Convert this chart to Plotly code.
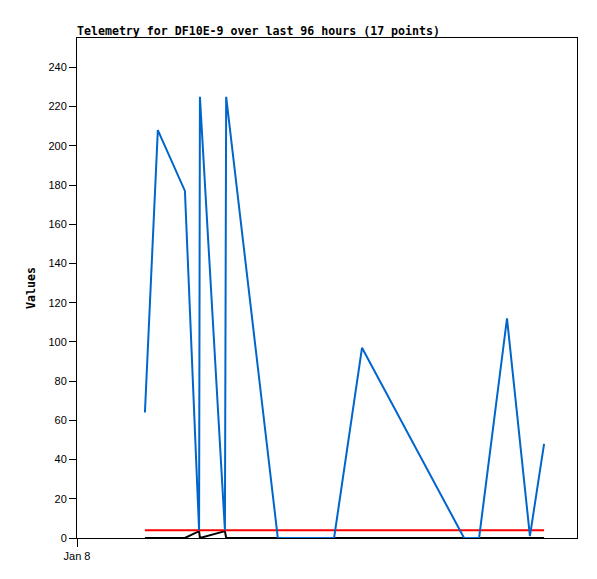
import plotly.graph_objects as go

times = ["2024-01-08 02:43", "2024-01-08 03:14", "2024-01-08 04:19", "2024-01-08 04:53",
         "2024-01-08 04:55", "2024-01-08 05:55", "2024-01-08 05:58", "2024-01-08 08:02",
         "2024-01-08 10:17", "2024-01-08 11:24", "2024-01-08 15:29", "2024-01-08 16:05",
         "2024-01-08 17:12", "2024-01-08 18:07", "2024-01-08 18:41"]
values = [64, 208, 177, 4, 225, 4, 225, 0, 0, 97, 0, 0, 112, 1, 48]
baseline = [0, 0, 0, 3.5, 0, 3.5, 0, 0, 0, 0, 0, 0, 0, 0, 0]
threshold = [4] * len(times)

W, H = 589, 571
fig = go.Figure()
fig.add_trace(go.Scatter(x=times, y=baseline, mode="lines",
                         line=dict(color="#000000", width=2)))
fig.add_trace(go.Scatter(x=times, y=threshold, mode="lines",
                         line=dict(color="#FF0000", width=2)))
fig.add_trace(go.Scatter(x=times, y=values, mode="lines",
                         line=dict(color="#0066CC", width=2)))

fig.update_layout(
    width=W, height=H,
    margin=dict(l=69, r=20, t=30, b=41),
    paper_bgcolor="white", plot_bgcolor="white",
    showlegend=False,
    title=dict(text="<b>Telemetry for DF10E-9 over last 96 hours (17 points)</b>",
               x=69/W, xanchor="left", y=1-23/H, yanchor="middle",
               font=dict(family="DejaVu Sans Mono", size=11.6, color="black")),
)
fig.update_xaxes(
    type="date", range=["2024-01-08 00:00", "2024-01-08 20:00"],
    tickvals=["2024-01-08 00:00"], ticktext=["Jan 8"],
    ticks="outside", ticklen=8, tickcolor="black",
    showgrid=False, zeroline=False,
    showline=True, linecolor="black", linewidth=1, mirror=True,
    tickfont=dict(family="Liberation Sans", size=11, color="black"),
)
fig.update_yaxes(
    range=[0, 255], tickvals=list(range(0, 241, 20)),
    ticks="outside", ticklen=7, tickcolor="black",
    showgrid=False, zeroline=False,
    showline=True, linecolor="black", linewidth=1, mirror=True,
    tickfont=dict(family="Liberation Sans", size=11, color="black"),
    title=dict(text="<b>Values</b>", standoff=10,
               font=dict(family="DejaVu Sans Mono", size=11.6, color="black")),
)

fig.write_html("out.html")
